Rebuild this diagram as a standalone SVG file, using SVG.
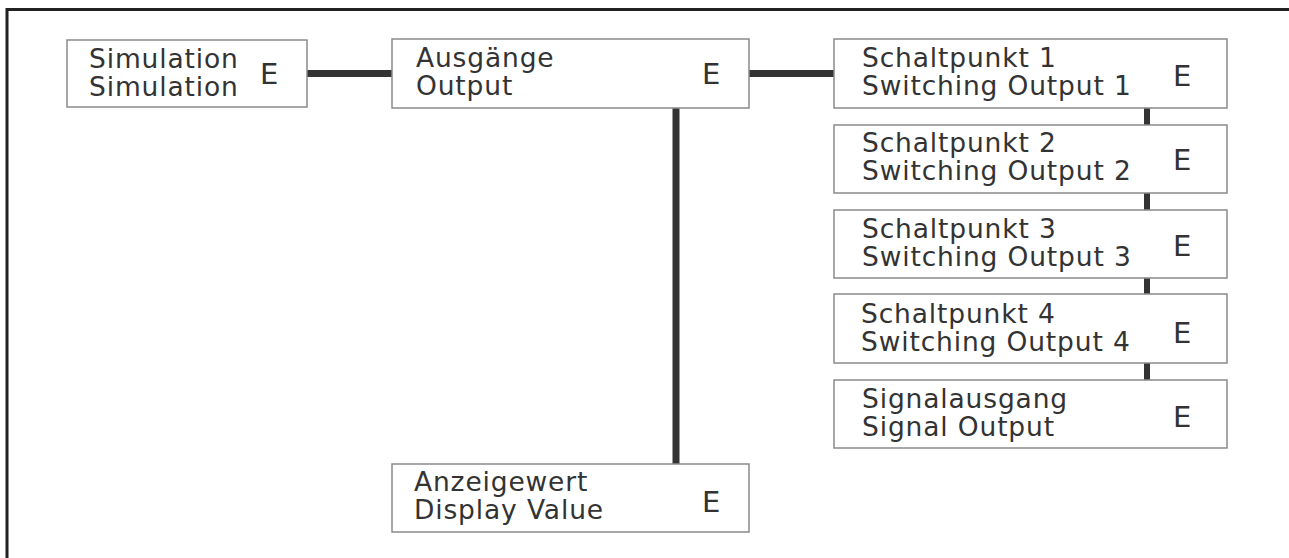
<svg xmlns="http://www.w3.org/2000/svg" width="1289" height="558" viewBox="0 0 1289 558">
<style>
.box{fill:#fff;stroke:#8a8a8a;stroke-width:1.5}
.t{font-family:"DejaVu Sans",Verdana,sans-serif;font-size:26.5px;letter-spacing:0.85px;fill:#333}
.e{font-family:"DejaVu Sans",Verdana,sans-serif;font-size:29px;fill:#333}
.c{stroke:#333;fill:none}
.frame{stroke:#222;stroke-width:3;fill:none}
</style>
<rect width="1289" height="558" fill="#fff"/>
<path class="frame" d="M7 558 V9.5 H1289"/>
<g id="connectors">
<line class="c" x1="307" y1="73.5" x2="392" y2="73.5" stroke-width="7"/>
<line class="c" x1="749" y1="73.5" x2="834" y2="73.5" stroke-width="7"/>
<line class="c" x1="676" y1="108" x2="676" y2="464" stroke-width="7"/>
<line class="c" x1="1147" y1="108" x2="1147" y2="125" stroke-width="6"/>
<line class="c" x1="1147" y1="193" x2="1147" y2="210" stroke-width="6"/>
<line class="c" x1="1147" y1="278" x2="1147" y2="294" stroke-width="6"/>
<line class="c" x1="1147" y1="363" x2="1147" y2="380" stroke-width="6"/>
</g>
<g id="simulation">
<rect class="box" x="67" y="40" width="240" height="67"/>
<text class="t" x="89" y="68">Simulation</text>
<text class="t" x="89" y="96">Simulation</text>
<text class="e" x="260" y="84">E</text>
</g>
<g id="ausgaenge">
<rect class="box" x="392" y="39" width="357" height="69"/>
<text class="t" x="416" y="67">Ausgänge</text>
<text class="t" x="416" y="95">Output</text>
<text class="e" x="702" y="84">E</text>
</g>
<g id="schaltpunkt1">
<rect class="box" x="834" y="39" width="393" height="69"/>
<text class="t" x="862" y="67">Schaltpunkt 1</text>
<text class="t" x="862" y="95">Switching Output 1</text>
<text class="e" x="1173" y="86">E</text>
</g>
<g id="schaltpunkt2">
<rect class="box" x="834" y="125" width="393" height="68"/>
<text class="t" x="862" y="152">Schaltpunkt 2</text>
<text class="t" x="862" y="180">Switching Output 2</text>
<text class="e" x="1173" y="170">E</text>
</g>
<g id="schaltpunkt3">
<rect class="box" x="834" y="210" width="393" height="68"/>
<text class="t" x="862" y="238">Schaltpunkt 3</text>
<text class="t" x="862" y="266">Switching Output 3</text>
<text class="e" x="1173" y="256">E</text>
</g>
<g id="schaltpunkt4">
<rect class="box" x="834" y="294" width="393" height="69"/>
<text class="t" x="861" y="323">Schaltpunkt 4</text>
<text class="t" x="861" y="351">Switching Output 4</text>
<text class="e" x="1173" y="343">E</text>
</g>
<g id="signalausgang">
<rect class="box" x="834" y="380" width="393" height="68"/>
<text class="t" x="862" y="408">Signalausgang</text>
<text class="t" x="862" y="436">Signal Output</text>
<text class="e" x="1173" y="427">E</text>
</g>
<g id="anzeigewert">
<rect class="box" x="392" y="464" width="357" height="68"/>
<text class="t" x="414" y="491">Anzeigewert</text>
<text class="t" x="414" y="519">Display Value</text>
<text class="e" x="702" y="512">E</text>
</g>
</svg>
